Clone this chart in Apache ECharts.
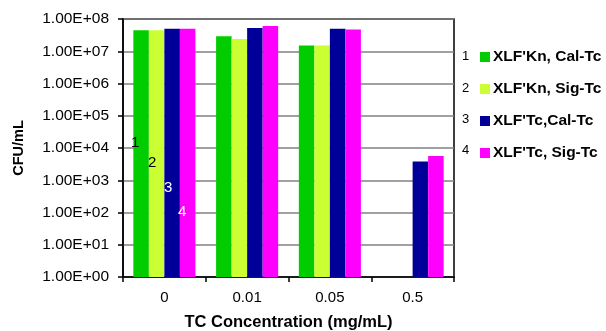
<!DOCTYPE html>
<html>
<head>
<meta charset="utf-8">
<script src="https://cdn.jsdelivr.net/npm/echarts@6/dist/echarts.min.js"></script>
<style>
html,body{margin:0;padding:0;background:#fff;}
#chart{width:606px;height:331px;}
</style>
</head>
<body>
<div id="chart"></div>
<script>
const categories = ['0', '0.01', '0.05', '0.5'];
const seriesNames = ["XLF'Kn, Cal-Tc", "XLF'Kn, Sig-Tc", "XLF'Tc,Cal-Tc", "XLF'Tc, Sig-Tc"];
const knCal = [4.5e7, 2.9e7, 1.5e7, null];
const knSig = [4.5e7, 2.4e7, 1.5e7, null];
const tcCal = [5.0e7, 5.3e7, 5.0e7, 3.8e3];
const tcSig = [5.0e7, 6.1e7, 4.7e7, 5.6e3];
const colors = ['#00CC00', '#CCFF33', '#000099', '#FF00FF'];
const yTickLabels = ['1.00E+00','1.00E+01','1.00E+02','1.00E+03','1.00E+04','1.00E+05','1.00E+06','1.00E+07','1.00E+08'];
const seriesData = [knCal, knSig, tcCal, tcSig];

const chart = echarts.init(document.getElementById('chart'), null, {renderer: 'canvas'});
const font = 'Liberation Sans, Arial, sans-serif';

const legendRowTops = [50, 82, 113, 144];

const option = {
  animation: false,
  backgroundColor: '#fff',
  textStyle: {fontFamily: font},
  grid: {left: 123, right: 152, top: 19, bottom: 54, show: true, borderColor: '#000', borderWidth: 1.5,
         backgroundColor: 'transparent', containLabel: false, outerBoundsMode: 'none'},
  legend: {
    orient: 'vertical', left: 480, top: 48, padding: 0, itemWidth: 10, itemHeight: 10, itemGap: 14,
    icon: 'rect', data: seriesNames,
    textStyle: {fontFamily: font, fontWeight: 'bold', fontSize: 15.5, color: '#000', padding: [0,0,0,-2], lineHeight: 18}
  },
  xAxis: {
    type: 'category', data: categories,
    axisLine: {lineStyle: {color: '#000', width: 1.5}},
    axisTick: {show: true, length: 5, lineStyle: {color: '#000', width: 1.5}},
    axisLabel: {color: '#000', fontSize: 15, fontFamily: font, margin: 13},
    name: 'TC Concentration (mg/mL)', nameLocation: 'middle', nameGap: 37,
    nameTextStyle: {fontWeight: 'bold', fontSize: 16.5, color: '#000', fontFamily: font}
  },
  yAxis: {
    type: 'log', logBase: 10, min: 1, max: 1e8,
    axisLine: {show: true, lineStyle: {color: '#000', width: 1.5}},
    axisTick: {show: true, length: 5, lineStyle: {color: '#000', width: 1.5}},
    splitLine: {lineStyle: {color: '#808080', width: 1.6}},
    axisLabel: {color: '#000', fontSize: 15.5, fontFamily: font, margin: 14,
      formatter: function (v) { const e = Math.round(Math.log10(v)); return yTickLabels[e]; }},
    name: 'CFU/mL', nameLocation: 'middle', nameGap: 97,
    nameTextStyle: {fontWeight: 'bold', fontSize: 14.5, color: '#000', fontFamily: font}
  },
  series: seriesNames.map((n, i) => ({
    name: n, type: 'bar', data: seriesData[i].map(v => v == null ? '-' : v),
    barGap: '0%', barCategoryGap: '25%',
    itemStyle: {color: colors[i]}
  })),
  graphic: [
    {type: 'text', z: 100, left: 462, top: legendRowTops[0], style: {text: '1', fontSize: 13, fontFamily: font, fill: '#000'}},
    {type: 'text', z: 100, left: 462, top: legendRowTops[1], style: {text: '2', fontSize: 13, fontFamily: font, fill: '#000'}},
    {type: 'text', z: 100, left: 462, top: legendRowTops[2], style: {text: '3', fontSize: 13, fontFamily: font, fill: '#000'}},
    {type: 'text', z: 100, left: 462, top: legendRowTops[3], style: {text: '4', fontSize: 13, fontFamily: font, fill: '#000'}},
    {type: 'text', z: 100, left: 131, top: 135, style: {text: '1', fontSize: 15, fontFamily: font, fill: '#000'}},
    {type: 'text', z: 100, left: 148, top: 155, style: {text: '2', fontSize: 15, fontFamily: font, fill: '#000'}},
    {type: 'text', z: 100, left: 164, top: 180, style: {text: '3', fontSize: 15, fontFamily: font, fill: '#fff'}},
    {type: 'text', z: 100, left: 178, top: 204, style: {text: '4', fontSize: 15, fontFamily: font, fill: '#fff'}}
  ]
};
chart.setOption(option);
</script>
</body>
</html>
